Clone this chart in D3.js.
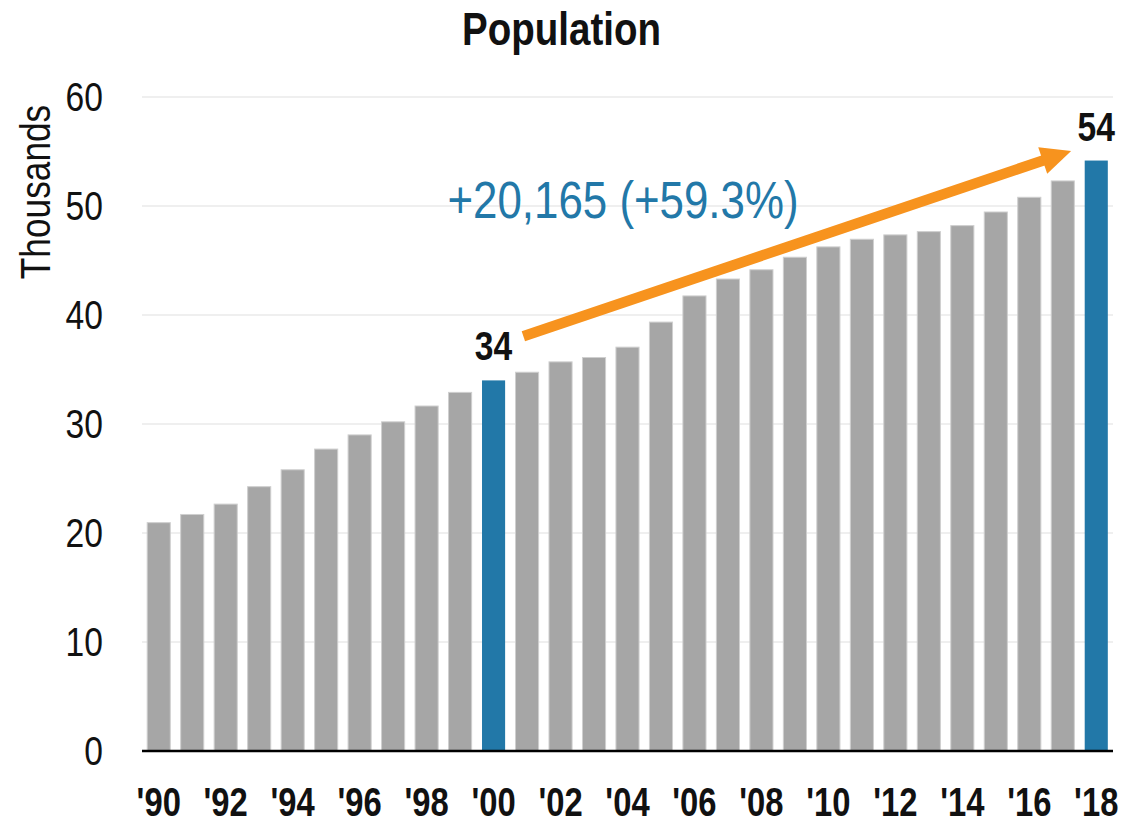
<!DOCTYPE html>
<html>
<head>
<meta charset="utf-8">
<script src="https://cdn.jsdelivr.net/npm/d3@7"></script>
<style>
  html, body { margin: 0; padding: 0; background: #fff; }
  svg { display: block; }
  text { font-family: "Liberation Sans", Arial, sans-serif; }
</style>
</head>
<body>
<svg id="chart" width="1125" height="824"></svg>
<script>
// ---- data ----
const years = [1990,1991,1992,1993,1994,1995,1996,1997,1998,1999,2000,2001,2002,2003,2004,2005,2006,2007,2008,2009,2010,2011,2012,2013,2014,2015,2016,2017,2018];
const population = [20.95,21.7,22.65,24.25,25.8,27.7,29.0,30.2,31.65,32.9,34.0,34.75,35.7,36.1,37.05,39.35,41.75,43.3,44.15,45.3,46.25,46.95,47.35,47.65,48.2,49.45,50.8,52.3,54.17];
const highlightYears = [2000, 2018];
const highlightLabels = ["34", "54"];
const yTicks = [0,10,20,30,40,50,60];
const xTickYears = [1990,1992,1994,1996,1998,2000,2002,2004,2006,2008,2010,2012,2014,2016,2018];
const titleText = "Population";
const yAxisLabel = "Thousands";
const changeText = "+20,165 (+59.3%)";
// arrow endpoints: [year, offset in band steps, value]
const arrowFrom = [2001, -0.11, 38.05];
const arrowTo = [2017, 0.25, 55.05];

// ---- layout ----
const W = 1125, H = 824;
const SX = 0.82; // horizontal condensing of the sans font (narrow look)
const plot = { left: 142, right: 1113, top: 97, bottom: 751 };
const svg = d3.select("#chart");

function narrow(sel, sx = SX) {
  sel.each(function () {
    const t = d3.select(this);
    const x0 = +(t.attr("x") || 0);
    const tr = t.attr("transform") || "";
    t.attr("x", x0 / sx).attr("transform", (tr + ` scale(${sx},1)`).trim());
  });
}

const x = d3.scaleBand().domain(years).range([plot.left, plot.right]).paddingInner(0.31).paddingOuter(0.155);
const y = d3.scaleLinear().domain([0, 60]).range([plot.bottom, plot.top]);

// gridlines
svg.append("g").selectAll("line").data(yTicks.filter(d => d > 0)).join("line")
  .attr("x1", plot.left).attr("x2", plot.right)
  .attr("y1", d => y(d)).attr("y2", d => y(d))
  .attr("stroke", "#efefef").attr("stroke-width", 2);

// y axis labels
const yAxis = svg.append("g").attr("transform", `translate(${plot.left},0)`)
  .call(d3.axisLeft(y).tickValues(yTicks).tickSize(0).tickPadding(39));
yAxis.select(".domain").remove();
yAxis.selectAll("text").attr("font-size", 41).attr("fill", "#111")
  .style("font-family", '"Liberation Sans", Arial, sans-serif').call(narrow);

// bars
svg.append("g").selectAll("rect").data(years.map((yr, i) => ({ yr, v: population[i] }))).join("rect")
  .attr("x", d => x(d.yr)).attr("width", x.bandwidth())
  .attr("y", d => y(d.v)).attr("height", d => y(0) - y(d.v))
  .attr("fill", d => highlightYears.includes(d.yr) ? "#2278a8" : "#a6a6a6")
  .attr("stroke", d => highlightYears.includes(d.yr) ? "none" : "#cfcfcf")
  .attr("stroke-width", 1);

// baseline
svg.append("line").attr("x1", plot.left).attr("x2", plot.right)
  .attr("y1", y(0)).attr("y2", y(0)).attr("stroke", "#000").attr("stroke-width", 2.5);

// x axis labels
const xAxis = svg.append("g").attr("transform", `translate(0,${plot.bottom})`)
  .call(d3.axisBottom(x).tickValues(xTickYears).tickSize(0).tickPadding(37)
    .tickFormat(d => "'" + String(d).slice(2)));
xAxis.select(".domain").remove();
xAxis.selectAll("text").attr("font-size", 40).attr("font-weight", "bold").attr("fill", "#111")
  .style("font-family", '"Liberation Sans", Arial, sans-serif').call(narrow);

// value labels on highlighted bars
svg.append("g").selectAll("text").data(highlightYears).join("text")
  .attr("x", d => x(d) + x.bandwidth() / 2)
  .attr("y", d => y(population[years.indexOf(d)]) - 20)
  .attr("text-anchor", "middle").attr("font-size", 41).attr("font-weight", "bold")
  .attr("fill", "#111")
  .text((d, i) => highlightLabels[i]).call(narrow);

// arrow
const p0 = [x(arrowFrom[0]) + x.bandwidth() / 2 + arrowFrom[1] * x.step(), y(arrowFrom[2])];
const p1 = [x(arrowTo[0]) + x.bandwidth() / 2 + arrowTo[1] * x.step(), y(arrowTo[2])];
const dx = p1[0] - p0[0], dy = p1[1] - p0[1], len = Math.hypot(dx, dy);
const ux = dx / len, uy = dy / len, nx = -uy, ny = ux;
const headLen = 30, headHalf = 14;
const base = [p1[0] - ux * headLen, p1[1] - uy * headLen];
svg.append("line")
  .attr("x1", p0[0]).attr("y1", p0[1])
  .attr("x2", base[0] + ux * 2).attr("y2", base[1] + uy * 2)
  .attr("stroke", "#f7931e").attr("stroke-width", 10.5);
svg.append("path")
  .attr("d", d3.line()([p1, [base[0] + nx * headHalf, base[1] + ny * headHalf], [base[0] - nx * headHalf, base[1] - ny * headHalf]]) + "Z")
  .attr("fill", "#f7931e");

// change annotation
svg.append("text").attr("x", 623).attr("y", 218)
  .attr("text-anchor", "middle").attr("font-size", 51).attr("fill", "#2278a8")
  .text(changeText).call(narrow, 0.86);

// title
svg.append("text").attr("x", W / 2 - 1).attr("y", 45)
  .attr("text-anchor", "middle").attr("font-size", 47).attr("font-weight", "bold").attr("fill", "#111")
  .text(titleText).call(narrow);

// y axis title
svg.append("text").attr("transform", "translate(50,192) rotate(-90)")
  .attr("text-anchor", "middle").attr("font-size", 43).attr("fill", "#111")
  .text(yAxisLabel).call(narrow);
</script>
</body>
</html>
